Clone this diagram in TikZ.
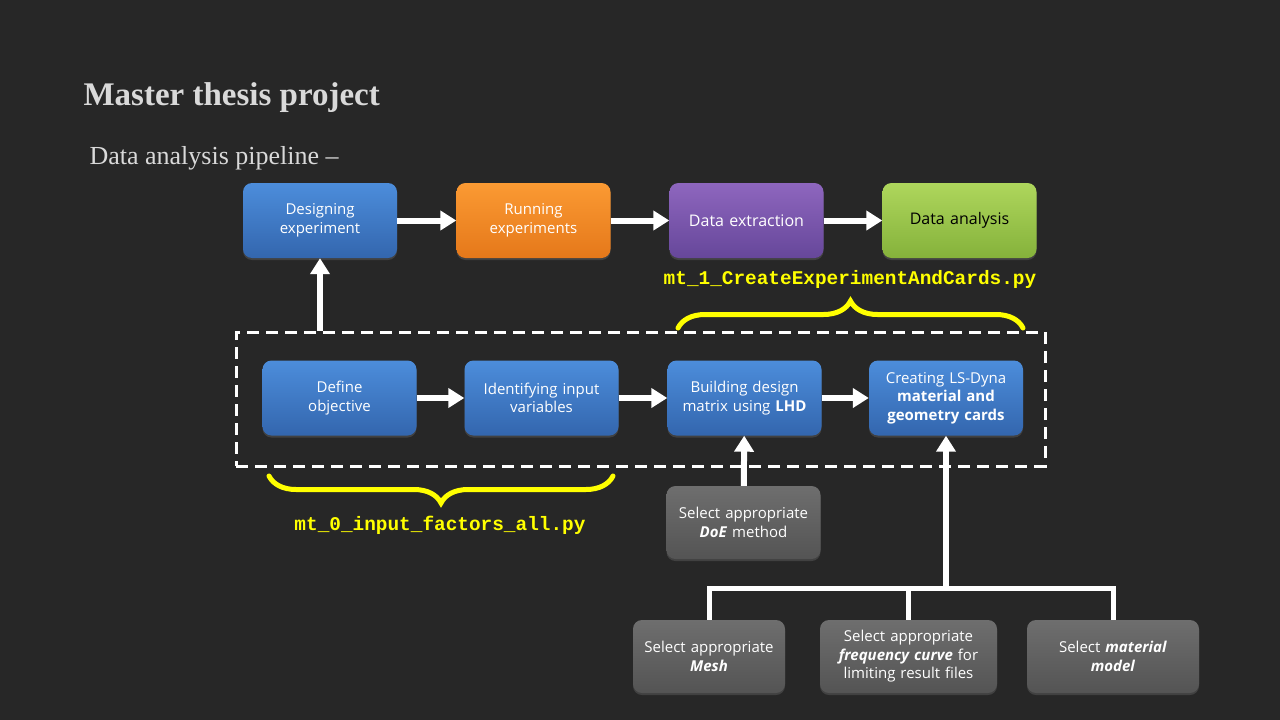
\documentclass[tikz,border=0pt]{standalone}
\usepackage{fontspec}
\setmainfont{Open Sans}
\newfontfamily\titlefont{Liberation Serif}
\setmonofont{Liberation Mono}
\usepackage{tikz}
\usetikzlibrary{arrows.meta,decorations.pathreplacing,shadows}

\definecolor{bg}{HTML}{272727}
\definecolor{blueT}{HTML}{4C8DDB}
\definecolor{blueB}{HTML}{3366AE}
\definecolor{orangeT}{HTML}{FB9A33}
\definecolor{orangeB}{HTML}{E5781A}
\definecolor{purpleT}{HTML}{8E66BE}
\definecolor{purpleB}{HTML}{66479A}
\definecolor{greenT}{HTML}{AED65C}
\definecolor{greenB}{HTML}{85B23B}
\definecolor{grayT}{HTML}{6E6E6E}
\definecolor{grayB}{HTML}{545454}
\definecolor{codeyellow}{HTML}{FFFF00}
\definecolor{titlegray}{HTML}{D9D9D9}

\begin{document}
\begin{tikzpicture}[x=1pt,y=-1pt,
    box/.style={rounded corners=9pt, minimum width=154pt, minimum height=75pt,
      text width=142pt, align=center, text=white, inner sep=0pt,
      font=\fontsize{15}{18.5}\selectfont,
      drop shadow={shadow xshift=0pt, shadow yshift=-2pt, opacity=0.3}},
    bluebox/.style={box, top color=blueT, bottom color=blueB},
    graybox/.style={box, top color=grayT, bottom color=grayB, minimum height=73pt},
    arr/.style={white, line width=6pt, -{Triangle[length=16pt,width=19pt]}},
    link/.style={white, line width=5pt},
    bracebar/.style={codeyellow, line width=5pt, line cap=round,
      decoration={brace, amplitude=27pt}, decorate},
    code/.style={font=\fontsize{19.4}{22}\selectfont\ttfamily\bfseries, text=codeyellow}]

  % background
  \fill[bg] (0,0) rectangle (1280,720);

  % titles
  \node[anchor=west, text=titlegray, font=\fontsize{33}{38}\selectfont\titlefont\bfseries] (title) at (80,98) {Master thesis project};
  \node[anchor=west, text=titlegray, font=\fontsize{26}{30}\selectfont\titlefont] (subtitle) at (86,158) {Data analysis pipeline \textendash};

  % main pipeline
  \node[bluebox] (dsg) at (320,220.5) {Designing\\experiment};
  \node[box, top color=orangeT, bottom color=orangeB] (run) at (533.5,220.5) {Running\\experiments};
  \node[box, top color=purpleT, bottom color=purpleB, font=\fontsize{16}{19}\selectfont] (ext) at (746.5,220.5) {Data extraction};
  \node[box, top color=greenT, bottom color=greenB, text=black, font=\fontsize{16}{19}\selectfont] (ana) at (959.5,220.5) {Data analysis};
  \draw[arr] (dsg) -- (run);
  \draw[arr] (run) -- (ext);
  \draw[arr] (ext) -- (ana);

  % design of experiment steps
  \node[draw=white, line width=3pt, dash pattern=on 12pt off 7pt, minimum width=809pt, minimum height=134pt] (frame) at (640.5,399) {};
  \node[bluebox] (obj) at (339.5,398) {Define\\objective};
  \node[bluebox] (inp) at (541.5,398) {Identifying input\\variables};
  \node[bluebox] (lhd) at (744.5,398) {Building design\\matrix using \textbf{LHD}};
  \node[bluebox] (cards) at (946,398) {Creating LS-Dyna\\\textbf{material and}\\\textbf{geometry cards}};
  \draw[arr] (obj) -- (inp);
  \draw[arr] (inp) -- (lhd);
  \draw[arr] (lhd) -- (cards);
  \draw[arr] (frame.north -| dsg.south) -- (dsg.south);

  % scripts
  \node[code] (py1) at (850,279) {mt\_1\_CreateExperimentAndCards.py};
  \node[code] (py0) at (440,525) {mt\_0\_input\_factors\_all.py};
  \coordinate (b1l) at (678,328);
  \coordinate (b1r) at (1023,328);
  \coordinate (b0l) at (269,476);
  \coordinate (b0r) at (613,476);
  \draw[bracebar] (b1l) -- (b1r);
  \draw[bracebar] (b0r) -- (b0l);

  % inputs
  \node[graybox] (doe) at (743.5,522.5) {Select appropriate\\\textbf{\textit{DoE}} method};
  \draw[arr] (doe) -- (lhd);

  \node[graybox, minimum width=152pt] (mesh) at (709,656.5) {Select appropriate\\\textbf{\textit{Mesh}}};
  \node[graybox, minimum width=177pt, text width=165pt] (freq) at (908.5,656.5) {Select appropriate\\\textbf{\textit{frequency curve}} for\\limiting result files};
  \node[graybox, minimum width=172pt] (mat) at (1113,656.5) {Select \textbf{\textit{material}}\\\textbf{\textit{model}}};
  \coordinate (split) at (946,588);
  \draw[link] (mesh.north) |- (split) -| (mat.north);
  \draw[link] (freq.north) -- (freq.north |- split);
  \draw[arr] (split) -- (cards.south);
\end{tikzpicture}
\end{document}
